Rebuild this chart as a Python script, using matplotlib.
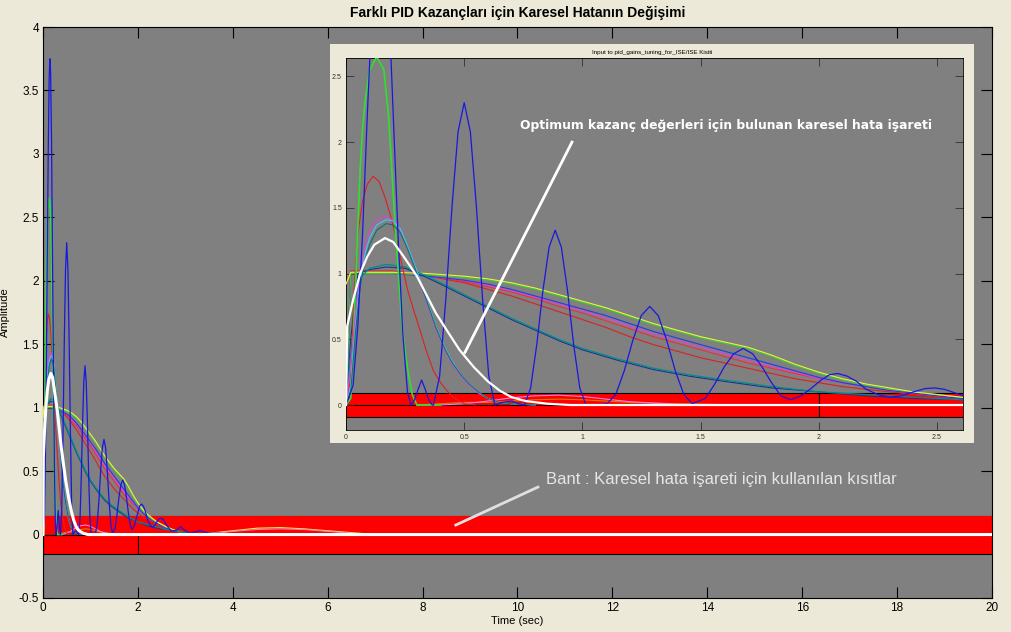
import matplotlib.pyplot as plt
from matplotlib.patches import Rectangle

plt.rcParams['font.family'] = ['Liberation Sans', 'DejaVu Sans']

# ---- Data (squared error vs time)
t_osc = [0, 0.03, 0.05, 0.07, 0.09, 0.11, 0.13, 0.145, 0.16, 0.18, 0.2,
         0.22, 0.24, 0.26, 0.275,
         0.29, 0.305, 0.32, 0.335, 0.35, 0.365,
         0.37, 0.396, 0.422, 0.448, 0.474, 0.5, 0.526, 0.552, 0.578, 0.604,
         0.63, 0.66, 0.7, 0.73,
         0.755, 0.781, 0.807, 0.833, 0.859, 0.885, 0.911, 0.937, 0.963,
         0.989, 1.015, 1.06,
         1.105, 1.141, 1.177, 1.213, 1.249, 1.285, 1.321, 1.357, 1.393,
         1.429, 1.465,
         1.52, 1.56, 1.6, 1.64, 1.68, 1.72, 1.76, 1.8, 1.84, 1.88,
         1.925, 1.97, 2.01, 2.045, 2.08, 2.12, 2.16, 2.2, 2.25, 2.3,
         2.35, 2.4, 2.45, 2.49, 2.53, 2.58, 2.63, 2.7,
         2.8, 2.9, 3.0, 3.1, 3.3, 3.5, 3.7, 4.0]
v_osc = [0, 0.15, 0.6, 1.3, 2.2, 3.0, 3.6, 3.75, 3.65, 3.1, 2.2,
         1.3, 0.55, 0.1, 0.0,
         0.04, 0.12, 0.19, 0.12, 0.04, 0.0,
         0.0, 0.22, 0.8, 1.5, 2.08, 2.3, 2.08, 1.5, 0.8, 0.22,
         0.0, 0.02, 0.03, 0.01,
         0.0, 0.13, 0.46, 0.87, 1.2, 1.33, 1.2, 0.87, 0.46,
         0.13, 0.0, 0.0,
         0.01, 0.08, 0.26, 0.49, 0.68, 0.75, 0.68, 0.49, 0.26,
         0.08, 0.01,
         0.05, 0.16, 0.29, 0.39, 0.43, 0.39, 0.29, 0.17, 0.07, 0.04,
         0.07, 0.13, 0.19, 0.23, 0.24, 0.22, 0.18, 0.12, 0.08, 0.06,
         0.07, 0.1, 0.125, 0.13, 0.12, 0.09, 0.06, 0.03,
         0.03, 0.06, 0.03, 0.01, 0.03, 0.01, 0.01, 0.0]

t_green_fast = [0, 0.02, 0.03, 0.04, 0.05, 0.06, 0.07, 0.08, 0.1, 0.13,
                0.16, 0.18, 0.2, 0.21, 0.22, 0.23, 0.24, 0.26, 0.28, 0.3,
                0.4]
v_green_fast = [0, 0.05, 0.45, 0.9, 1.35, 1.8, 2.1, 2.3, 2.55, 2.65,
                2.55, 2.2, 1.6, 1.3, 1.05, 0.78, 0.55, 0.28, 0.08, 0.0,
                0.0]

t_red_fast = [0, 0.02, 0.035, 0.05, 0.07, 0.09, 0.115, 0.14, 0.165, 0.19,
              0.215, 0.235, 0.26, 0.29, 0.313, 0.34, 0.37, 0.4, 0.426, 0.46,
              0.5, 0.55]
v_red_fast = [0, 0.2, 0.9, 1.3, 1.55, 1.68, 1.74, 1.7, 1.58, 1.43,
              1.25, 1.08, 0.88, 0.7, 0.57, 0.41, 0.26, 0.17, 0.11, 0.05,
              0.01, 0.0]

t_bunch = [0, 0.02, 0.04, 0.06, 0.08, 0.1, 0.13, 0.17, 0.2, 0.23, 0.26, 0.3,
           0.34, 0.38, 0.42, 0.45, 0.49, 0.52, 0.56, 0.6, 0.65, 0.7, 0.8]
v_magenta_fast = [0, 0.3, 0.7, 1.0, 1.2, 1.32, 1.41, 1.43, 1.41, 1.34, 1.2,
                  1.0, 0.79, 0.58, 0.41, 0.31, 0.21, 0.15, 0.09, 0.05, 0.02,
                  0.01, 0]
v_cyan_fast = [0, 0.15, 0.6, 0.95, 1.15, 1.27, 1.37, 1.41, 1.4, 1.34, 1.21,
               1.02, 0.81, 0.6, 0.43, 0.33, 0.22, 0.16, 0.1, 0.05, 0.02,
               0.01, 0]
v_teal_fast = [0, 0.1, 0.55, 0.9, 1.1, 1.22, 1.33, 1.38, 1.37, 1.31, 1.19,
               1.0, 0.8, 0.59, 0.42, 0.32, 0.22, 0.16, 0.1, 0.05, 0.02,
               0.01, 0]

t_slow = [0, 0.02, 0.2, 0.35, 0.5, 0.6, 0.7, 0.8, 0.9, 1.0, 1.1, 1.2, 1.3,
          1.4, 1.5, 1.6, 1.7, 1.8, 1.9, 2.0, 2.1, 2.2, 2.3, 2.4, 2.5, 2.6,
          2.8, 3.0, 3.3]
v_yellow_slow = [0.92, 1.01, 1.01, 1.0, 0.98, 0.96, 0.93, 0.89, 0.84, 0.79,
                 0.74, 0.68, 0.62, 0.57, 0.52, 0.48, 0.44, 0.38, 0.31, 0.25,
                 0.2, 0.16, 0.13, 0.1, 0.08, 0.06, 0.03, 0.01, 0.0]
v_green_slow = [0.0, 1.0, 1.0, 0.99, 0.97, 0.95, 0.92, 0.88, 0.83, 0.78,
                0.73, 0.67, 0.61, 0.56, 0.51, 0.47, 0.43, 0.37, 0.3, 0.24,
                0.19, 0.15, 0.12, 0.1, 0.08, 0.06, 0.03, 0.01, 0.0]
v_blue_slow = [0.0, 1.0, 1.0, 0.98, 0.95, 0.92, 0.88, 0.83, 0.78, 0.73,
               0.68, 0.62, 0.56, 0.51, 0.46, 0.41, 0.36, 0.31, 0.26, 0.21,
               0.17, 0.14, 0.11, 0.09, 0.07, 0.05, 0.03, 0.01, 0.0]
v_magenta_slow = [0.0, 1.0, 1.0, 0.98, 0.95, 0.91, 0.87, 0.82, 0.77, 0.72,
                  0.66, 0.6, 0.54, 0.49, 0.44, 0.39, 0.34, 0.29, 0.25, 0.2,
                  0.17, 0.14, 0.11, 0.09, 0.07, 0.05, 0.03, 0.01, 0.0]
v_red_slow1 = [0.0, 1.0, 1.0, 0.98, 0.94, 0.9, 0.86, 0.81, 0.75, 0.7,
               0.64, 0.58, 0.52, 0.47, 0.42, 0.37, 0.32, 0.28, 0.24, 0.2,
               0.17, 0.14, 0.11, 0.09, 0.07, 0.05, 0.03, 0.01, 0.0]
v_red_slow2 = [0.0, 1.02, 1.02, 0.98, 0.93, 0.88, 0.83, 0.77, 0.71, 0.65,
               0.59, 0.52, 0.46, 0.41, 0.36, 0.32, 0.28, 0.24, 0.2, 0.17,
               0.14, 0.12, 0.1, 0.08, 0.06, 0.05, 0.03, 0.01, 0.0]

t_decay = [0, 0.02, 0.05, 0.1, 0.17, 0.25, 0.33, 0.4, 0.5, 0.6, 0.7, 0.8,
           0.9, 1.0, 1.15, 1.3, 1.45, 1.6, 1.8, 2.0, 2.2, 2.4, 2.6, 2.9, 3.2]
v_teal_decay = [0.0, 0.4, 0.95, 1.04, 1.07, 1.05, 0.99, 0.93, 0.84, 0.75,
                0.66, 0.58, 0.5, 0.43, 0.35, 0.28, 0.23, 0.19, 0.14, 0.1,
                0.08, 0.06, 0.04, 0.02, 0.0]
v_navy_decay = [0.0, 0.5, 1.0, 1.03, 1.05, 1.04, 0.98, 0.92, 0.83, 0.74,
                0.65, 0.57, 0.49, 0.42, 0.34, 0.27, 0.22, 0.18, 0.13, 0.1,
                0.07, 0.05, 0.04, 0.02, 0.0]

t_bump = [0.3, 0.4, 0.5, 0.6, 0.7, 0.8, 0.9, 1.0, 1.1, 1.2, 1.4, 1.7]
v_orange_bump = [0, 0.01, 0.02, 0.02, 0.03, 0.04, 0.045, 0.04, 0.03, 0.02,
                 0.01, 0]
v_pink_bump = [0, 0, 0.01, 0.03, 0.055, 0.07, 0.075, 0.065, 0.045, 0.025,
               0.005, 0]

t_tail = [2.8, 3.5, 4.0, 4.5, 5.0, 5.5, 6.0, 6.5, 7.0]
v_tail_yellow = [0, 0.01, 0.03, 0.05, 0.055, 0.045, 0.03, 0.015, 0]
v_tail_pink = [0, 0.005, 0.025, 0.04, 0.045, 0.04, 0.025, 0.01, 0]

t_white = [0, 0.005, 0.03, 0.06, 0.09, 0.12, 0.165, 0.2, 0.24, 0.27, 0.3,
           0.34, 0.38, 0.426, 0.48, 0.54, 0.6, 0.65, 0.7, 0.76, 0.85, 0.95,
           20]
v_white = [0, 0.6, 0.8, 1.0, 1.13, 1.22, 1.27, 1.24, 1.14, 1.06, 0.98,
           0.84, 0.7, 0.57, 0.42, 0.29, 0.18, 0.11, 0.06, 0.03, 0.01, 0.0,
           0.0]

# constraint band
band_upper = 0.15
band_lower = -0.15
band_split = 2
t_end = 20
inset_band = 0.09

curves = [
    (t_slow, v_red_slow2, '#E02020', 0.8),
    (t_slow, v_red_slow1, '#F03030', 0.8),
    (t_slow, v_magenta_slow, '#E040E0', 0.8),
    (t_slow, v_blue_slow, '#2040E0', 0.8),
    (t_slow, v_green_slow, '#30D030', 0.8),
    (t_slow, v_yellow_slow, '#F0F040', 0.8),
    (t_decay, v_navy_decay, '#203090', 0.8),
    (t_decay, v_teal_decay, '#008C8C', 0.9),
    (t_bump, v_orange_bump, '#D08000', 0.8),
    (t_bump, v_pink_bump, '#F080F0', 0.8),
    (t_tail, v_tail_yellow, '#F0F040', 0.8),
    (t_tail, v_tail_pink, '#F080C0', 0.8),
    (t_red_fast, v_red_fast, '#E02020', 0.8),
    (t_green_fast, v_green_fast, '#30E030', 1.2),
    (t_bunch, v_magenta_fast, '#E040E0', 0.8),
    (t_bunch, v_cyan_fast, '#40C8F0', 0.8),
    (t_bunch, v_teal_fast, '#107070', 0.8),
    (t_osc, v_osc, '#1818E0', 0.9),
]

BG = '#ECE9D8'
GRAY = '#808080'


def draw_band(ax, lo, hi, full_split):
    ax.add_patch(Rectangle((0, 0), band_split, hi, fc='red', ec='black',
                           lw=0.8, zorder=1))
    ax.add_patch(Rectangle((band_split, 0), t_end - band_split, hi,
                           fc='red', ec='black', lw=0.8, zorder=1))
    ax.add_patch(Rectangle((0, lo), band_split, -lo, fc='red', ec='black',
                           lw=0.8, zorder=1))
    ax.add_patch(Rectangle((band_split, lo), t_end - band_split, -lo,
                           fc='red', ec='black', lw=0.8, zorder=1))
    if not full_split:
        ax.add_patch(Rectangle((0, 0.004), t_end, hi - 0.008, fc='red',
                               ec='none', zorder=1))


def draw_curves(ax, white_lw):
    for t, v, c, lw in curves:
        ax.plot(t, v, '-', color=c, lw=lw, zorder=3)
    ax.plot(t_white, v_white, '-', color='white', lw=white_lw, zorder=4)


fig = plt.figure(figsize=(10.12, 6.32), dpi=100, facecolor=BG)

# ---- Main axes
ax = fig.add_axes([43 / 1012, 34 / 632, 949 / 1012, 571 / 632])
ax.set_facecolor(GRAY)
draw_band(ax, band_lower, band_upper, False)
draw_curves(ax, 2.2)
ax.set_xlim(0, 20)
ax.set_ylim(-0.5, 4)
ax.set_xticks(range(0, 21, 2))
ax.set_yticks([-0.5, 0, 0.5, 1, 1.5, 2, 2.5, 3, 3.5, 4])
ax.set_yticklabels(['-0.5', '0', '0.5', '1', '1.5', '2', '2.5', '3', '3.5',
                    '4'])
ax.tick_params(direction='in', length=8, width=0.8, top=True, right=True,
               labelsize=8.5, pad=3)
for sp in ax.spines.values():
    sp.set_linewidth(0.8)
ax.set_xlabel('Time (sec)', fontsize=8, labelpad=1)
ax.set_ylabel('Amplitude', fontsize=8, labelpad=6)
ax.set_title('Farklı PID Kazançları için Karesel Hatanın Değişimi',
             fontsize=10, fontweight='bold', pad=7)

ax.plot([10.43, 8.70], [0.374, 0.075], color='#E0E0E0', lw=2, zorder=5)
ax.text(10.6, 0.43, 'Bant : Karesel hata işareti için kullanılan kısıtlar',
        color='#E6E6E6', fontsize=12,
        family=['Liberation Sans Narrow', 'Liberation Sans'],
        va='center', ha='left', zorder=5)

# ---- Inset (screenshot frame)
frame = fig.add_axes([330 / 1012, 189 / 632, 644 / 1012, 399 / 632])
frame.set_facecolor(BG)
frame.set_xticks([])
frame.set_yticks([])
for sp in frame.spines.values():
    sp.set_visible(False)
frame.text(0.5, 0.985, 'Input to pid_gains_tuning_for_ISE/ISE Kisiti',
           fontsize=4.5, ha='center', va='top', transform=frame.transAxes)

axi = fig.add_axes([346 / 1012, 202 / 632, 617 / 1012, 372 / 632])
axi.set_facecolor(GRAY)
draw_band(axi, -inset_band, inset_band, True)
draw_curves(axi, 1.6)
axi.set_xlim(0, 2.61)
axi.set_ylim(-0.19, 2.64)
axi.set_xticks([0, 0.5, 1, 1.5, 2, 2.5])
axi.set_xticklabels(['0', '0.5', '1', '1.5', '2', '2.5'])
axi.set_yticks([0, 0.5, 1, 1.5, 2, 2.5])
axi.set_yticklabels(['0', '0.5', '1', '1.5', '2', '2.5'])
axi.tick_params(direction='in', length=6, width=0.6, top=True, right=True,
                labelsize=5, pad=3, colors='#303030')
for sp in axi.spines.values():
    sp.set_linewidth(0.6)

axi.plot([0.956, 0.503], [2.0, 0.40], color='white', lw=2, zorder=5)
axi.text(0.736, 2.13,
         'Optimum kazanç değerleri için bulunan karesel hata işareti',
         color='white', fontsize=8.9, fontweight='bold',
         family=['DejaVu Sans'], va='center', ha='left', zorder=5)

fig.savefig('out.png', dpi=100, facecolor=BG)
